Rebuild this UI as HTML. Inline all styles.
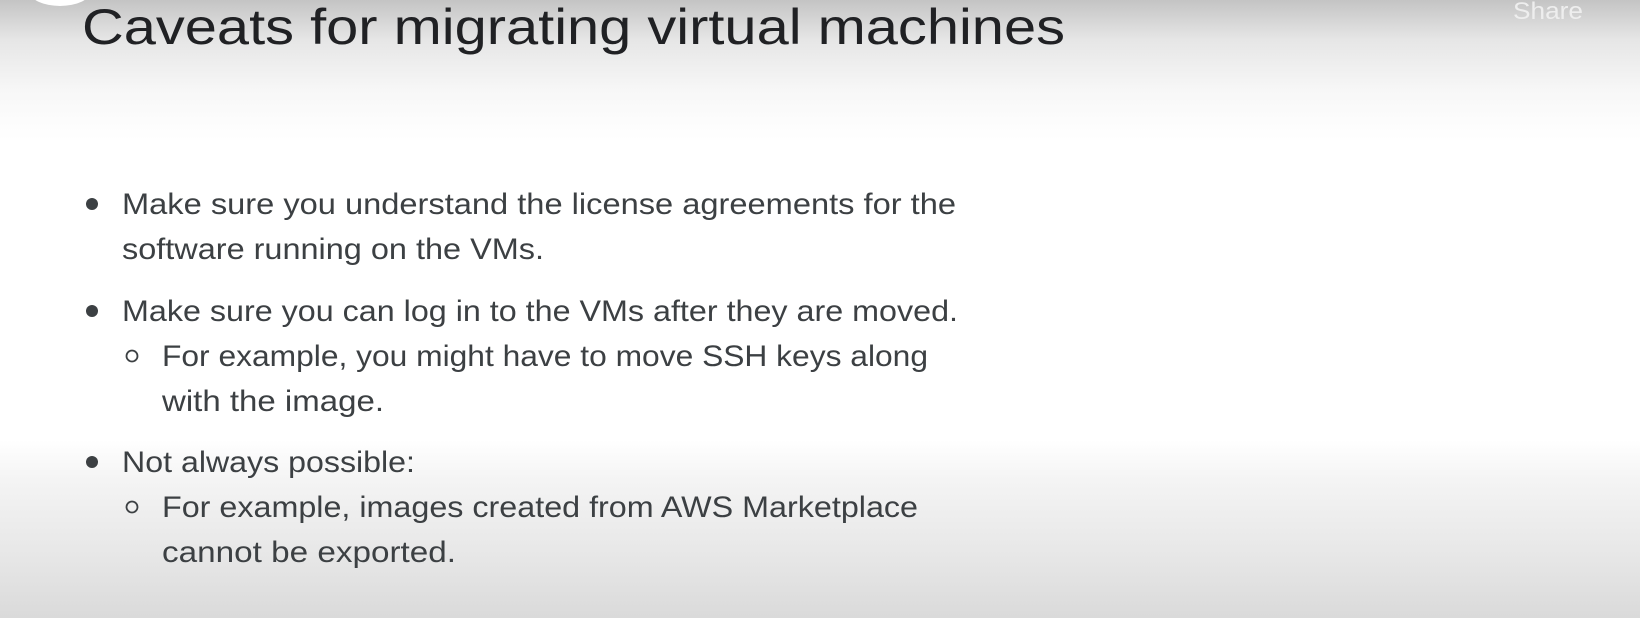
<!DOCTYPE html>
<html><head><meta charset="utf-8"><style>
html,body{margin:0;padding:0;width:1640px;height:618px;overflow:hidden}
body{background:linear-gradient(to bottom,#c4c4c4 0px,#e6e6e6 40px,#f7f7f7 90px,#fff 140px,#fff 440px,#f4f4f4 480px,#e6e6e6 560px,#dadada 618px)}
svg{position:absolute;left:0;top:0}
</style></head><body>
<svg width="1640" height="618" xmlns="http://www.w3.org/2000/svg" font-family="Liberation Sans, sans-serif">
<ellipse cx="60" cy="-8" rx="30" ry="14" fill="#fff"/>
<text x="1548" y="19" font-size="24" fill="#eeeeee" text-anchor="middle" textLength="70" lengthAdjust="spacingAndGlyphs">Share</text>
<text x="82" y="44" font-size="50" fill="#202124" textLength="983" lengthAdjust="spacingAndGlyphs">Caveats for migrating virtual machines</text>
<g fill="#3c4043" font-size="30">
<circle cx="92" cy="204" r="6"/>
<text x="122" y="214" textLength="834" lengthAdjust="spacingAndGlyphs">Make sure you understand the license agreements for the</text>
<text x="122" y="259" textLength="422" lengthAdjust="spacingAndGlyphs">software running on the VMs.</text>
<circle cx="92" cy="311" r="6"/>
<text x="122" y="321" textLength="836" lengthAdjust="spacingAndGlyphs">Make sure you can log in to the VMs after they are moved.</text>
<circle cx="132" cy="356" r="5.5" fill="none" stroke="#3c4043" stroke-width="1.8"/>
<text x="162" y="366" textLength="766" lengthAdjust="spacingAndGlyphs">For example, you might have to move SSH keys along</text>
<text x="162" y="411" textLength="222" lengthAdjust="spacingAndGlyphs">with the image.</text>
<circle cx="92" cy="462" r="6"/>
<text x="122" y="472" textLength="293" lengthAdjust="spacingAndGlyphs">Not always possible:</text>
<circle cx="132" cy="507" r="5.5" fill="none" stroke="#3c4043" stroke-width="1.8"/>
<text x="162" y="517" textLength="756" lengthAdjust="spacingAndGlyphs">For example, images created from AWS Marketplace</text>
<text x="162" y="562" textLength="294" lengthAdjust="spacingAndGlyphs">cannot be exported.</text>
</g>
</svg>
</body></html>
